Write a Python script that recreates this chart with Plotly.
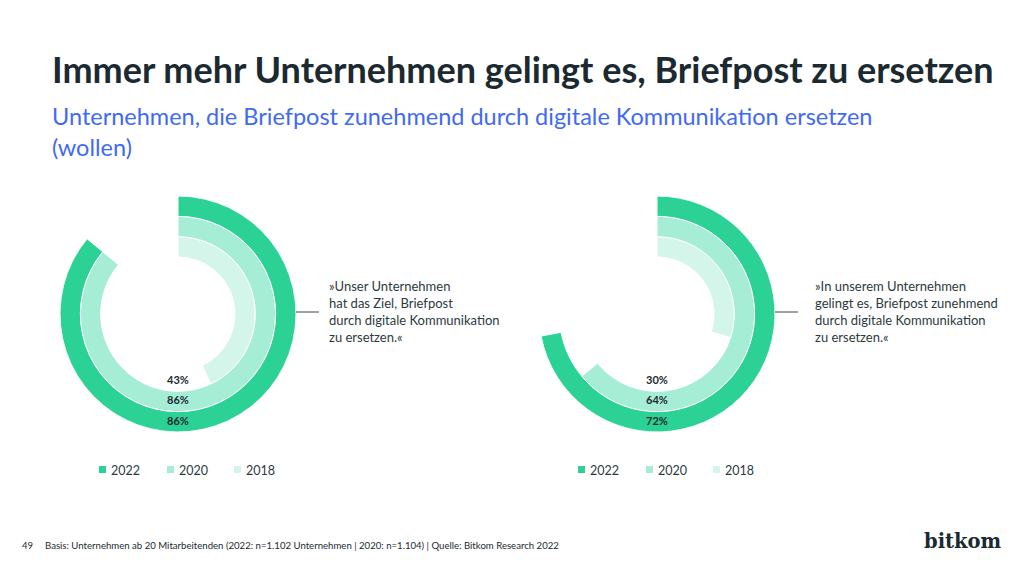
import plotly.graph_objects as go

# ---- data ----
years = ["2018", "2020", "2022"]          # inner -> outer ring
left_values = [43, 86, 86]
right_values = [30, 64, 72]
colors = ["#D4F6EA", "#A6EDD5", "#2CD295"]
left_quote = "»Unser Unternehmen<br>hat das Ziel, Briefpost<br>durch digitale Kommunikation<br>zu ersetzen.«"
right_quote = "»In unserem Unternehmen<br>gelingt es, Briefpost zunehmend<br>durch digitale Kommunikation<br>zu ersetzen.«"
title = "Immer mehr Unternehmen gelingt es, Briefpost zu ersetzen"
subtitle = "Unternehmen, die Briefpost zunehmend durch digitale Kommunikation ersetzen<br>(wollen)"
footer = "Basis: Unternehmen ab 20 Mitarbeitenden (2022: n=1.102 Unternehmen | 2020: n=1.104) | Quelle: Bitkom Research 2022"
page_no = "49"

W, H = 1024, 573
FONT = "Lato"
DARK = "#1B2A30"

fig = go.Figure()

def add_chart(values, polar):
    for i, (yr, v, c) in enumerate(zip(years, values, colors)):
        fig.add_trace(go.Barpolar(
            r=[1], base=[i], theta=[v * 3.6 / 2], width=[v * 3.6],
            marker=dict(color=c, line=dict(color="white", width=1)),
            name=yr, showlegend=False, subplot=polar, hoverinfo="skip"))
    fig.add_trace(go.Scatterpolar(
        r=[i + 0.5 for i in range(len(values))], theta=[180] * len(values),
        text=[f"{v}%" for v in values], mode="text",
        textfont=dict(family=FONT, size=11, color=DARK, weight="bold"),
        showlegend=False, subplot=polar, hoverinfo="skip"))

add_chart(left_values, "polar")
add_chart(right_values, "polar2")

def px_dom(cx, cy, R):
    return dict(x=[(cx - R) / W, (cx + R) / W], y=[(H - cy - R) / H, (H - cy + R) / H])

polar_common = dict(
    hole=0.483, bgcolor="white",
    radialaxis=dict(visible=False, range=[0, 3]),
    angularaxis=dict(visible=False, rotation=90, direction="clockwise"),
    barmode="overlay")

fig.update_layout(
    width=W, height=H, margin=dict(l=0, r=0, t=0, b=0),
    paper_bgcolor="white", plot_bgcolor="white",
    polar=dict(domain=px_dom(178, 314, 118), **polar_common),
    polar2=dict(domain=px_dom(657, 314, 118), **polar_common),
)

ann = []
shapes = []
ann.append(dict(text=f"<b>{title}</b>", x=50 / W, y=1 - 69 / H, xref="paper", yref="paper",
                xanchor="left", yanchor="middle", showarrow=False,
                font=dict(family=FONT, size=36, color=DARK)))
ann.append(dict(text=subtitle, x=50 / W, y=1 - 100 / H, xref="paper", yref="paper",
                xanchor="left", yanchor="top", showarrow=False, align="left",
                font=dict(family=FONT, size=23.5, color="#3F6AF5")))

for cx, quote, qx in [(178, left_quote, 327), (657, right_quote, 813)]:
    shapes.append(dict(type="line", xref="paper", yref="paper",
                       x0=(cx + 118) / W, x1=(cx + 141) / W, y0=1 - 312 / H, y1=1 - 312 / H,
                       line=dict(color="#3A474C", width=1)))
    ann.append(dict(text=quote, x=qx / W, y=1 - 311 / H, xref="paper", yref="paper",
                    xanchor="left", yanchor="middle", showarrow=False, align="left",
                    font=dict(family=FONT, size=13, color="#2C3A40")))

legend_x = {178: [99, 167, 234], 657: [578, 646, 713]}
for cx in (178, 657):
    for yr, c, lx in zip(years[::-1], colors[::-1], legend_x[cx]):
        shapes.append(dict(type="rect", xref="paper", yref="paper",
                           x0=lx / W, x1=(lx + 7) / W, y0=1 - 473 / H, y1=1 - 466 / H,
                           fillcolor=c, line=dict(width=0)))
        ann.append(dict(text=yr, x=(lx + 10) / W, y=1 - 470 / H, xref="paper", yref="paper",
                        xanchor="left", yanchor="middle", showarrow=False,
                        font=dict(family=FONT, size=12.5, color="#2C3A40")))

ann.append(dict(text=page_no, x=20 / W, y=1 - 545 / H, xref="paper", yref="paper",
                xanchor="left", yanchor="middle", showarrow=False,
                font=dict(family=FONT, size=9.5, color=DARK)))
ann.append(dict(text=footer, x=43 / W, y=1 - 545 / H, xref="paper", yref="paper",
                xanchor="left", yanchor="middle", showarrow=False,
                font=dict(family=FONT, size=9.6, color=DARK)))
ann.append(dict(text="bitkom", x=963 / W, y=1 - 541 / H, xref="paper", yref="paper",
                xanchor="center", yanchor="middle", showarrow=False,
                font=dict(family="DejaVu Serif", size=19.5, color=DARK, weight=600)))

fig.update_layout(annotations=ann, shapes=shapes)
fig.write_html("out.html", config={"displayModeBar": False},
               post_script="document.body.style.margin='0';")
